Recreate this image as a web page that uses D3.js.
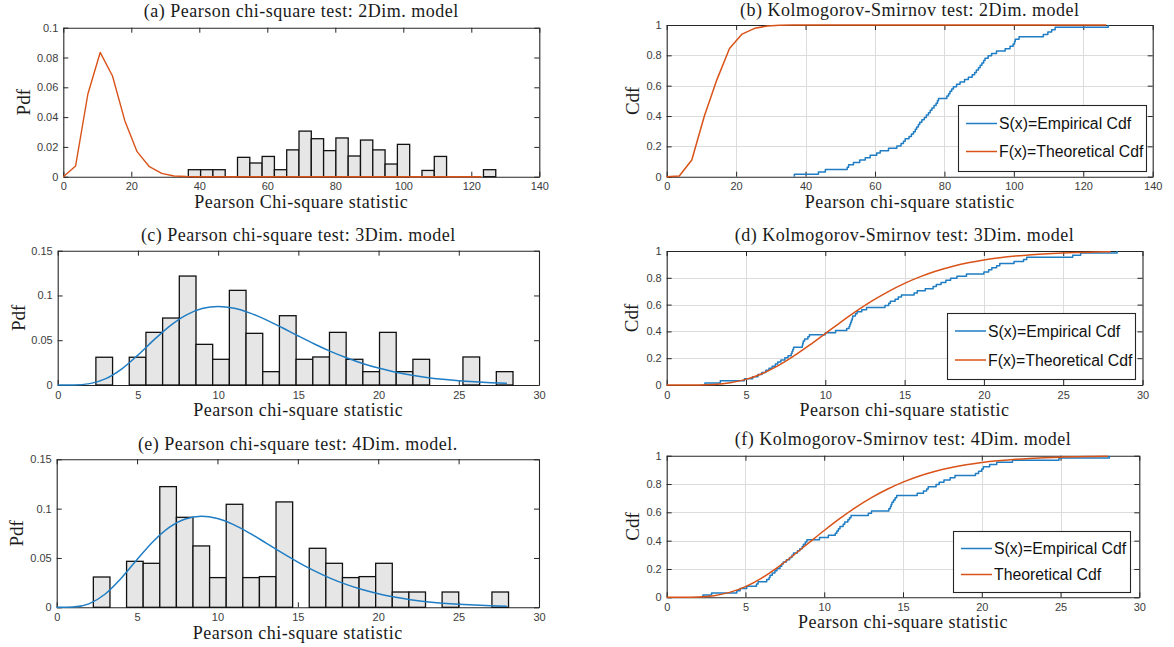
<!DOCTYPE html>
<html>
<head>
<meta charset="utf-8">
<script src="https://cdn.jsdelivr.net/npm/d3@7"></script>
<style>
  html, body { margin: 0; padding: 0; background: #ffffff; }
  svg { display: block; }
</style>
</head>
<body>
<svg id="chart" width="1174" height="647"></svg>
<script>
// ---------------- data ----------------
// (a) 2Dim. model: normalised histogram of the Pearson statistic + theoretical pdf
const aBinStart = 36.77, aBinWidth = 3.617;
const aPdfHeights = [0.0047, 0.0047, 0.0047, 0, 0.013, 0.0092, 0.0136, 0.0047, 0.018, 0.0306,
  0.0255, 0.0175, 0.026, 0.0139, 0.0246, 0.018, 0.0085, 0.0217, 0, 0.0042,
  0.0136, 0, 0, 0, 0.0047];
const abGridX = [0, 3.62, 7.23, 10.85, 14.47, 18.09, 21.70, 25.32, 28.94, 32.55, 36.17, 39.79,
  43.41, 47.02, 50.64, 54.26, 57.87, 61.49, 65.11, 68.72, 72.34, 75.96, 79.57, 83.19,
  86.81, 90.43, 94.04, 97.66, 101.28, 104.89, 108.51, 112.13, 115.74, 119.36, 122.98, 126.60];
const aTheoryPdf = [0, 0.0072, 0.0555, 0.0834, 0.0676, 0.0376, 0.0168, 0.0067, 0.0022, 0.0005,
  0.0001, 0, 0, 0, 0, 0, 0, 0, 0, 0, 0, 0, 0, 0, 0, 0, 0, 0, 0, 0, 0, 0, 0, 0, 0];

// (b) 2Dim. model: empirical vs theoretical cdf
const bTheoryCdf = [0, 0.005, 0.11, 0.40, 0.64, 0.845, 0.94, 0.978, 0.993, 0.998, 1, 1,
  1, 1, 1, 1, 1, 1, 1, 1, 1, 1, 1, 1, 1, 1, 1, 1, 1, 1, 1, 1, 1, 1, 1, 1];
const bSample = [36.77, 43.7, 45.7, 52.0, 52.4, 53.8, 55.6, 57.2, 58.6, 60.5, 61.5, 63.9,
  66.3, 67.5, 68.2, 68.7, 69.8, 70.5, 71.1, 71.6, 72.0, 72.5, 72.9, 73.5, 74.2, 74.8,
  75.4, 75.9, 76.4, 77.0, 77.6, 78.0, 78.3, 80.7, 81.2, 81.6, 82.1, 82.6, 83.5, 84.5,
  85.8, 86.9, 88.0, 88.7, 89.2, 89.8, 90.3, 90.8, 91.3, 91.7, 92.6, 93.6, 95.0, 97.5,
  98.9, 99.8, 100.2, 100.4, 101.5, 108.5, 109.8, 110.9, 111.9, 127.2];

// (c) 3Dim. model histogram + pdf
const cBinStart = 2.38, cBinWidth = 1.04;
const cPdfHeights = [0.031, 0, 0.031, 0.0588, 0.0748, 0.1217, 0.0454, 0.0287, 0.1057, 0.0577,
  0.0149, 0.0774, 0.0287, 0.0313, 0.0588, 0.0287, 0.0149, 0.0588, 0.0149, 0.0287,
  0, 0, 0.0313, 0, 0.0149];
const lowGridX = [0, 1, 2, 3, 4, 5, 6, 7, 8, 9, 10, 11, 12, 13, 14, 15, 16, 17, 18, 19, 20,
  21, 22, 23, 24, 25, 26, 27, 28];
const cTheoryPdf = [0, 0.00008, 0.00153, 0.00706, 0.01804, 0.0334, 0.0504, 0.0661, 0.0781,
  0.0854, 0.0877, 0.0857, 0.0803, 0.0727, 0.0639, 0.0547, 0.0458, 0.0376, 0.0304, 0.0241,
  0.0189, 0.0146, 0.0112, 0.0085, 0.0064, 0.0047, 0.0035, 0.0026, 0.0019];

// (d) 3Dim. model cdfs
const dTheoryCdf = [0, 0.00002, 0.0006, 0.0045, 0.0166, 0.0420, 0.0839, 0.1424, 0.2149,
  0.2971, 0.3840, 0.4711, 0.5543, 0.6310, 0.6993, 0.7586, 0.8088, 0.8504, 0.8843, 0.9115,
  0.9329, 0.9496, 0.9625, 0.9723, 0.9797, 0.9852, 0.9893, 0.9923, 0.9945];
const dSample = [2.41, 3.38, 4.9, 5.42, 5.75, 6.0, 6.25, 6.45, 6.65, 6.85, 7.0, 7.2, 7.45,
  7.65, 7.85, 7.9, 7.95, 8.0, 8.55, 8.58, 8.61, 8.7, 8.9, 9.0, 10.0, 10.65, 11.35, 11.5,
  11.55, 11.6, 11.65, 11.7, 11.73, 11.9, 12.0, 12.3, 12.6, 13.76, 14.0, 14.1, 14.4, 14.6,
  14.8, 15.6, 15.8, 16.3, 16.8, 17.0, 17.3, 17.6, 17.9, 18.3, 18.9, 20.0, 20.3, 20.5, 20.8,
  21.0, 21.9, 22.5, 22.7, 25.6, 26.1, 28.4];

// (e) 4Dim. model histogram + pdf
const eBinStart = 2.28, eBinWidth = 1.033;
const ePdfHeights = [0.0307, 0, 0.0466, 0.0446, 0.1223, 0.0912, 0.0622, 0.0301, 0.1044, 0.0301,
  0.0311, 0.1068, 0, 0.0598, 0.0446, 0.0301, 0.0311, 0.0446, 0.0155, 0.0155,
  0, 0.0155, 0, 0, 0.0155];
const eTheoryPdf = [0, 0.00026, 0.00351, 0.01322, 0.02925, 0.04843, 0.06672, 0.08098, 0.08958,
  0.0923, 0.08995, 0.08378, 0.07517, 0.06536, 0.05533, 0.04578, 0.03712, 0.02958, 0.0232,
  0.01795, 0.01371, 0.01036, 0.00775, 0.00574, 0.00422, 0.00307, 0.00222, 0.0016, 0.00114];

// (f) 4Dim. model cdfs
const fTheoryCdf = [0, 0.0001, 0.0021, 0.0115, 0.0346, 0.0754, 0.1343, 0.2085, 0.2930, 0.3825,
  0.4718, 0.5568, 0.6346, 0.7037, 0.7632, 0.8132, 0.8546, 0.8880, 0.9147, 0.9356, 0.9518,
  0.9643, 0.9737, 0.9808, 0.9860, 0.9899, 0.9928, 0.9948, 0.9963];
const fSample = [2.3, 2.85, 4.45, 4.66, 5.08, 5.7, 5.8, 6.35, 6.5, 6.56, 6.7, 6.87, 7.0, 7.19,
  7.3, 7.4, 7.6, 7.8, 7.95, 8.05, 8.3, 8.45, 8.6, 8.68, 8.8, 8.9, 9.7, 10.26, 10.7, 10.8,
  10.9, 11.0, 11.2, 11.3, 11.5, 11.6, 11.7, 12.8, 13.0, 14.1, 14.2, 14.25, 14.3, 14.4, 14.5,
  14.6, 15.9, 16.3, 16.5, 16.6, 17.1, 17.3, 17.6, 17.99, 18.3, 19.6, 19.8, 20.0, 20.1, 20.5,
  20.95, 21.95, 24.9, 28.1];

// tick values
const wideXTicks = [0, 20, 40, 60, 80, 100, 120, 140];
const narrowXTicks = [0, 5, 10, 15, 20, 25, 30];
const aYTicks = [0, 0.02, 0.04, 0.06, 0.08, 0.1];
const ceYTicks = [0, 0.05, 0.1, 0.15];
const cdfYTicks = [0, 0.2, 0.4, 0.6, 0.8, 1];

// ---------------- styling ----------------
const AXIS = '#262626', TICKTXT = '#3c3c3c', GRID = '#dcdcdc';
const BLUE = '#1f7dc4', ORANGE = '#D95319';
const SERIF = '"Liberation Serif", "Times New Roman", serif';
const SANS = '"Liberation Sans", Arial, Helvetica, sans-serif';

const svg = d3.select('#chart');

function panel(o) {
  const x = d3.scaleLinear().domain(o.xDomain).range([o.left, o.right]);
  const y = d3.scaleLinear().domain(o.yDomain).range([o.bottom, o.top]);
  const g = svg.append('g');

  // grid
  if (o.grid) {
    const gg = g.append('g').attr('stroke', GRID).attr('stroke-width', 1);
    gg.selectAll('line.vx').data(o.xTicks.slice(1, -1)).join('line')
      .attr('x1', d => Math.round(x(d)) + 0.5).attr('x2', d => Math.round(x(d)) + 0.5)
      .attr('y1', o.top).attr('y2', o.bottom);
    gg.selectAll('line.hy').data(o.yTicks.slice(1, -1)).join('line')
      .attr('y1', d => Math.round(y(d)) + 0.5).attr('y2', d => Math.round(y(d)) + 0.5)
      .attr('x1', o.left).attr('x2', o.right);
  }

  const tk = 5;
  const styleAxis = sel => {
    sel.select('.domain').attr('stroke', AXIS).attr('stroke-width', 1.1);
    sel.selectAll('.tick line').attr('stroke', AXIS).attr('stroke-width', 1);
    sel.selectAll('.tick text').attr('fill', TICKTXT)
      .style('font-family', SANS).style('font-size', '11px');
    sel.attr('font-family', null).attr('font-size', null);
  };
  const fmt = d => String(d);
  g.append('g').attr('transform', `translate(0,${o.bottom})`)
    .call(d3.axisBottom(x).tickValues(o.xTicks).tickSizeInner(-tk).tickSizeOuter(0)
      .tickPadding(6).tickFormat(fmt)).call(styleAxis);
  g.append('g').attr('transform', `translate(0,${o.top})`)
    .call(d3.axisTop(x).tickValues(o.xTicks).tickSizeInner(-tk).tickSizeOuter(0)
      .tickFormat('')).call(styleAxis);
  g.append('g').attr('transform', `translate(${o.left},0)`)
    .call(d3.axisLeft(y).tickValues(o.yTicks).tickSizeInner(-tk).tickSizeOuter(0)
      .tickPadding(5).tickFormat(fmt)).call(styleAxis);
  g.append('g').attr('transform', `translate(${o.right},0)`)
    .call(d3.axisRight(y).tickValues(o.yTicks).tickSizeInner(-tk).tickSizeOuter(0)
      .tickFormat('')).call(styleAxis);

  // histogram bars
  if (o.bins) {
    const bars = o.bins.heights.map((h, i) => ({
      x0: o.bins.start + i * o.bins.width,
      x1: o.bins.start + (i + 1) * o.bins.width,
      h
    })).filter(b => b.h > 0);
    g.append('g').selectAll('rect').data(bars).join('rect')
      .attr('x', d => x(d.x0)).attr('width', d => x(d.x1) - x(d.x0))
      .attr('y', d => y(d.h)).attr('height', d => y(0) - y(d.h))
      .attr('fill', '#e6e6e6').attr('stroke', '#111').attr('stroke-width', 1.3);
  }

  // lines
  (o.lines || []).forEach(L => {
    const line = d3.line().x(d => x(d[0])).y(d => y(d[1])).curve(L.curve || d3.curveLinear);
    g.append('path').datum(L.points).attr('d', line)
      .attr('fill', 'none').attr('stroke', L.color).attr('stroke-width', L.width || 1.5)
      .attr('stroke-linejoin', 'round');
  });

  // title and axis labels
  g.append('text').attr('x', (o.left + o.right) / 2).attr('y', o.titleY)
    .attr('text-anchor', 'middle').style('font-family', SERIF).style('font-size', '18px')
    .style('letter-spacing', '0.5px').attr('fill', '#1a1a1a').text(o.title);
  g.append('text').attr('x', (o.left + o.right) / 2).attr('y', o.xlabelY)
    .attr('text-anchor', 'middle').style('font-family', SERIF).style('font-size', '18px')
    .style('letter-spacing', '0.5px').attr('fill', '#1a1a1a').text(o.xlabel);
  g.append('text').attr('transform', `translate(${o.ylabelX},${(o.top + o.bottom) / 2}) rotate(-90)`)
    .attr('text-anchor', 'middle').style('font-family', SERIF).style('font-size', '19px')
    .attr('fill', '#1a1a1a').text(o.ylabel);

  // legend
  if (o.legend) {
    const L = o.legend;
    const lg = g.append('g').attr('transform', `translate(${L.x},${L.y})`);
    lg.append('rect').attr('x', 0.5).attr('y', 0.5).attr('width', L.w).attr('height', L.h)
      .attr('fill', '#fff').attr('stroke', AXIS).attr('stroke-width', 1.1);
    L.items.forEach((it, i) => {
      const cy = L.rows[i];
      lg.append('line').attr('x1', 8).attr('x2', 39).attr('y1', cy).attr('y2', cy)
        .attr('stroke', it.color).attr('stroke-width', 1.5);
      lg.append('text').attr('x', 41).attr('y', cy).attr('dy', '0.36em')
        .style('font-family', SANS).style('font-size', '15.8px').attr('fill', '#111')
        .text(it.label);
    });
  }
}

const zip = (xs, ys) => ys.map((v, i) => [xs[i], v]);
const ecdf = s => {
  const sorted = s.slice().sort((p, q) => p - q);
  const pts = [[sorted[0], 0]];
  sorted.forEach((v, i) => pts.push([v, (i + 1) / sorted.length]));
  return pts;
};

// (a)
panel({
  left: 63.3, right: 539.3, top: 27.7, bottom: 176.7,
  xDomain: [0, 140], yDomain: [0, 0.1], xTicks: wideXTicks, yTicks: aYTicks,
  bins: { start: aBinStart, width: aBinWidth, heights: aPdfHeights },
  lines: [{ points: zip(abGridX, aTheoryPdf), color: ORANGE, width: 1.4 }],
  title: '(a) Pearson chi-square test: 2Dim. model', titleY: 17,
  xlabel: 'Pearson Chi-square statistic', xlabelY: 208, ylabel: 'Pdf', ylabelX: 30
});

// (b)
panel({
  left: 666.7, right: 1152.7, top: 25, bottom: 176.7, grid: true,
  xDomain: [0, 140], yDomain: [0, 1], xTicks: wideXTicks, yTicks: cdfYTicks,
  lines: [
    { points: ecdf(bSample), color: BLUE, curve: d3.curveStepAfter },
    { points: zip(abGridX, bTheoryCdf), color: ORANGE }
  ],
  title: '(b) Kolmogorov-Smirnov test: 2Dim. model', titleY: 16,
  xlabel: 'Pearson chi-square statistic', xlabelY: 208, ylabel: 'Cdf', ylabelX: 639,
  legend: { x: 958, y: 105, w: 188, h: 66, rows: [18.5, 46.5],
    items: [{ color: BLUE, label: 'S(x)=Empirical Cdf' }, { color: ORANGE, label: 'F(x)=Theoretical Cdf' }] }
});

// (c)
panel({
  left: 57.7, right: 539, top: 250.7, bottom: 385,
  xDomain: [0, 30], yDomain: [0, 0.15], xTicks: narrowXTicks, yTicks: ceYTicks,
  bins: { start: cBinStart, width: cBinWidth, heights: cPdfHeights },
  lines: [{ points: zip(lowGridX, cTheoryPdf), color: BLUE, curve: d3.curveMonotoneX }],
  title: '(c) Pearson chi-square test: 3Dim. model', titleY: 241,
  xlabel: 'Pearson chi-square statistic', xlabelY: 416, ylabel: 'Pdf', ylabelX: 25
});

// (d)
panel({
  left: 666.7, right: 1142.5, top: 251, bottom: 385, grid: true,
  xDomain: [0, 30], yDomain: [0, 1], xTicks: narrowXTicks, yTicks: cdfYTicks,
  lines: [
    { points: ecdf(dSample), color: BLUE, curve: d3.curveStepAfter },
    { points: zip(lowGridX, dTheoryCdf), color: ORANGE, curve: d3.curveMonotoneX }
  ],
  title: '(d) Kolmogorov-Smirnov test: 3Dim. model', titleY: 241,
  xlabel: 'Pearson chi-square statistic', xlabelY: 416, ylabel: 'Cdf', ylabelX: 638,
  legend: { x: 947, y: 313, w: 188, h: 66, rows: [18, 47],
    items: [{ color: BLUE, label: 'S(x)=Empirical Cdf' }, { color: ORANGE, label: 'F(x)=Theoretical Cdf' }] }
});

// (e)
panel({
  left: 56.7, right: 539, top: 459.3, bottom: 607.3,
  xDomain: [0, 30], yDomain: [0, 0.15], xTicks: narrowXTicks, yTicks: ceYTicks,
  bins: { start: eBinStart, width: eBinWidth, heights: ePdfHeights },
  lines: [{ points: zip(lowGridX, eTheoryPdf), color: BLUE, curve: d3.curveMonotoneX }],
  title: '(e) Pearson chi-square test: 4Dim. model.', titleY: 450,
  xlabel: 'Pearson chi-square statistic', xlabelY: 639, ylabel: 'Pdf', ylabelX: 23
});

// (f)
panel({
  left: 666.7, right: 1139.3, top: 455.7, bottom: 597.3, grid: true,
  xDomain: [0, 30], yDomain: [0, 1], xTicks: narrowXTicks, yTicks: cdfYTicks,
  lines: [
    { points: ecdf(fSample), color: BLUE, curve: d3.curveStepAfter },
    { points: zip(lowGridX, fTheoryCdf), color: ORANGE, curve: d3.curveMonotoneX }
  ],
  title: '(f) Kolmogorov-Smirnov test: 4Dim. model', titleY: 445,
  xlabel: 'Pearson chi-square statistic', xlabelY: 628, ylabel: 'Cdf', ylabelX: 639,
  legend: { x: 953, y: 531, w: 177, h: 61, rows: [17.5, 43.5],
    items: [{ color: BLUE, label: 'S(x)=Empirical Cdf' }, { color: ORANGE, label: 'Theoretical Cdf' }] }
});
</script>
</body>
</html>
